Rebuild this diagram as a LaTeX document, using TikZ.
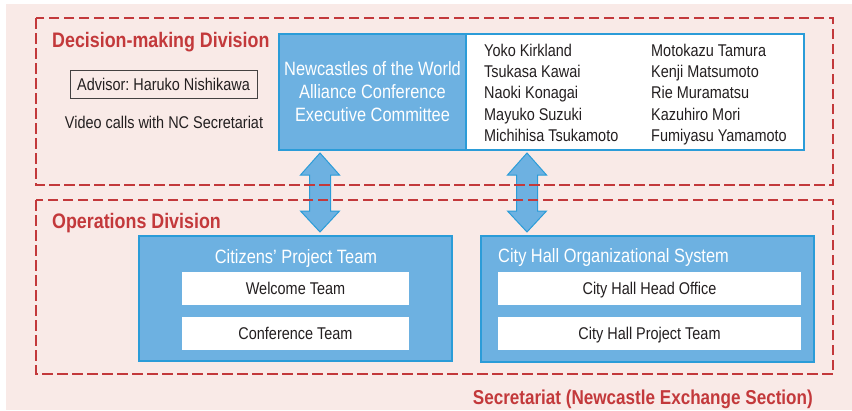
\documentclass[tikz,border=0pt]{standalone}
\usepackage{fontspec}
\setmainfont{Liberation Sans}[FakeStretch=0.85]
\usetikzlibrary{calc}
\definecolor{bgpink}{HTML}{F9EAE7}
\definecolor{redd}{HTML}{C3393B}
\definecolor{bfill}{HTML}{6DB1E1}
\definecolor{bline}{HTML}{2B9CD8}
\definecolor{txt}{HTML}{231F20}
\frenchspacing
\begin{document}
\begin{tikzpicture}[x=1pt,y=-1pt,
  divbox/.style={draw=redd, line width=2.8pt, dash pattern=on 10.5pt off 4.5pt},
  divtitle/.style={text=redd, font=\fontsize{21}{25}\selectfont\bfseries, inner sep=0},
  bluebox/.style={draw=bline, line width=1.3pt, fill=bfill, inner sep=0},
  bluetext/.style={text=white, font=\fontsize{19.3}{23}\selectfont, inner sep=0},
  bodytext/.style={text=txt, font=\fontsize{17}{21}\selectfont, inner sep=0},
  whitebox/.style={fill=white, inner sep=0, text=txt, font=\fontsize{17}{21}\selectfont, text depth=0pt},
  blockarrow/.style={fill=bfill, draw=bline, line width=1pt, line join=miter}
]
\useasboundingbox (0,0) rectangle (852,410);
\fill[bgpink] (6,4) rectangle (852,410);

% Decision-making division contents
\node[bluebox, minimum width=187, minimum height=116, bluetext, align=center] (exec) at (372.5,92)
  {Newcastles of the World\\Alliance Conference\\Executive Committee};
\node[draw=bline, line width=1.3pt, fill=white, minimum width=338, minimum height=116, inner sep=0] (names) at (635,92) {};

\foreach \nm/\txtA/\txtB/\yy in {1/Yoko Kirkland/Motokazu Tamura/56,
  2/Tsukasa Kawai/Kenji Matsumoto/77.3,
  3/Naoki Konagai/Rie Muramatsu/98.6,
  4/Mayuko Suzuki/Kazuhiro Mori/120,
  5/Michihisa Tsukamoto/Fumiyasu Yamamoto/141.3}{
  \node[bodytext, anchor=base west] (na\nm) at (484,\yy) {\txtA};
  \node[bodytext, anchor=base west] (nb\nm) at (651,\yy) {\txtB};
}

\node[draw=txt!85, line width=0.9pt, minimum width=187, minimum height=28, bodytext] (adv) at (163.5,84)
  {Advisor: Haruko Nishikawa};
\node[bodytext, anchor=base] (video) at (164,128) {Video calls with NC Secretariat};

% Operations division contents
\node[bluebox, minimum width=313, minimum height=125] (cpt) at (295.5,298.5) {};
\node[bluetext, anchor=base] (cptt) at (296,263) {Citizens’ Project Team};
\node[whitebox, minimum width=227, minimum height=33] (wel) at (295.5,288.5) {Welcome Team};
\node[whitebox, minimum width=227, minimum height=33] (conf) at (295.5,333.5) {Conference Team};

\node[bluebox, minimum width=333, minimum height=126] (chs) at (647.5,299) {};
\node[bluetext, anchor=base west] (chst) at (498,262.7) {City Hall Organizational System};
\node[whitebox, minimum width=303, minimum height=33] (cho) at (649.5,288.5) {City Hall Head Office};
\node[whitebox, minimum width=303, minimum height=33] (chp) at (649.5,333.5) {City Hall Project Team};

% block arrows (connectors)
\coordinate (a1t) at (320,153);
\coordinate (a2t) at (527,153);
\foreach \a in {a1t,a2t}{
  \draw[blockarrow] (\a) -- ++(19.5,22) -- ++(-9,0) -- ++(0,36) -- ++(9,0) -- ++(-19.5,21)
    -- ++(-19.5,-21) -- ++(9,0) -- ++(0,-36) -- ++(-9,0) -- cycle;
}

% dashed division frames
\draw[divbox] (36,18) rectangle (833,185);
\draw[divbox] (36,200) rectangle (833,374);

\node[divtitle, anchor=base west] (dmd) at (52,47) {Decision-making Division};
\node[divtitle, anchor=base west] (opd) at (52,228) {Operations Division};
\node[divtitle, font=\fontsize{20.1}{24}\selectfont\bfseries, anchor=base east] (sec) at (813,404) {Secretariat (Newcastle Exchange Section)};
\end{tikzpicture}
\end{document}
